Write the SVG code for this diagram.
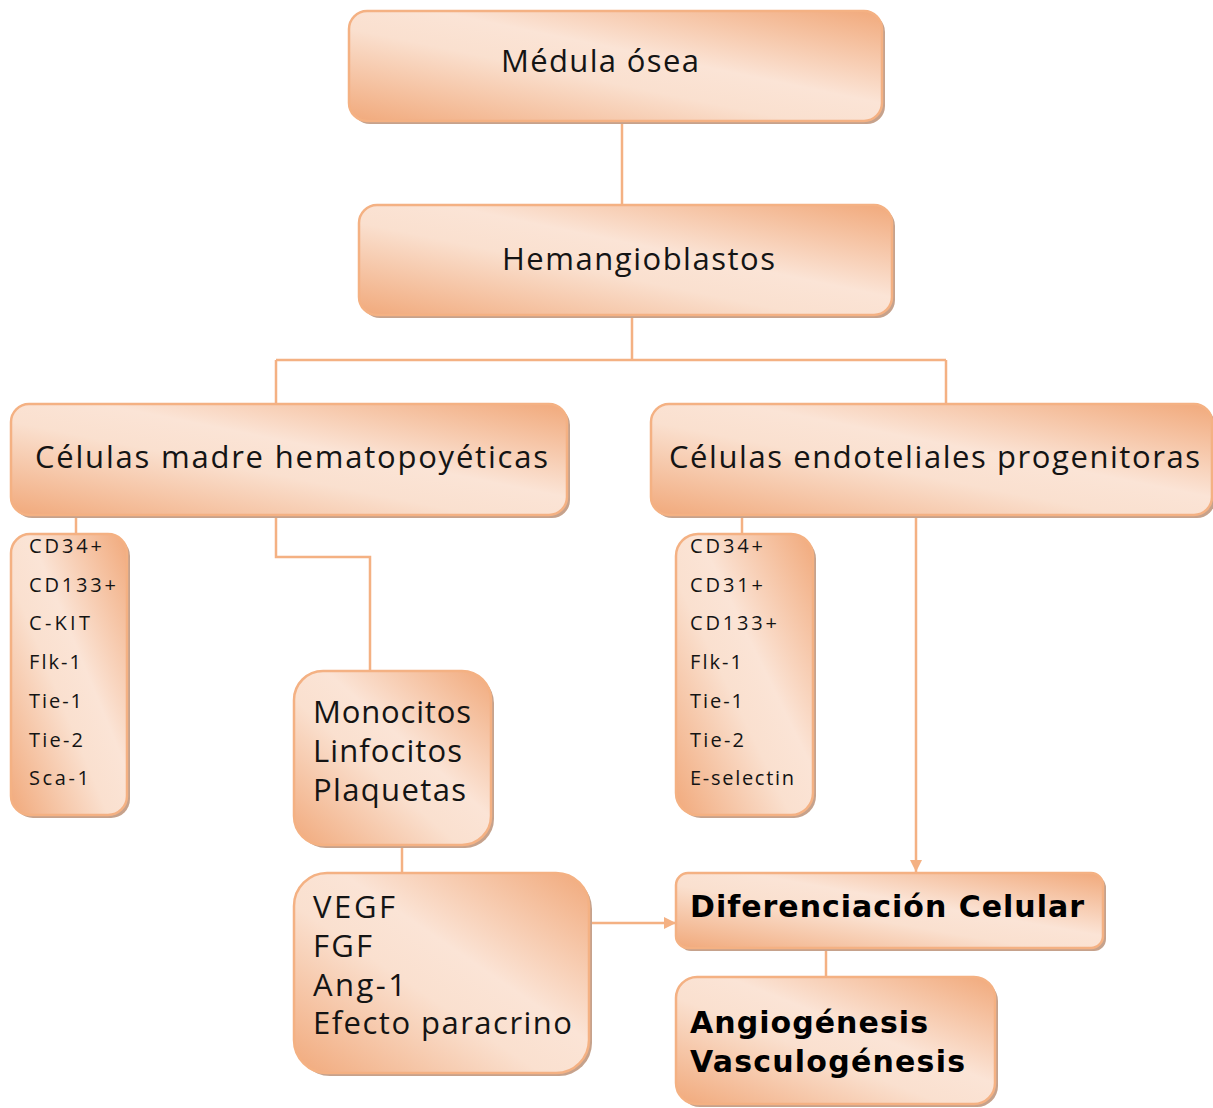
<svg xmlns="http://www.w3.org/2000/svg" width="1213" height="1108" viewBox="0 0 1213 1108">
  <defs>
    <linearGradient id="peach" x1="0" y1="1" x2="1" y2="0">
      <stop offset="0" stop-color="#F1A97B"/>
      <stop offset="0.42" stop-color="#FAE0CF"/>
      <stop offset="0.58" stop-color="#FBE4D6"/>
      <stop offset="1" stop-color="#F1A97B"/>
    </linearGradient>
    <marker id="arrow" viewBox="0 0 12 12" refX="12" refY="6" markerWidth="12" markerHeight="12" markerUnits="userSpaceOnUse" orient="auto">
      <path d="M0,0 L12,6 L0,12 Z" fill="#F4B183"/>
    </marker>
  </defs>
  <style>
    .shadow { fill: #C6A28C; }
    .box { fill: url(#peach); stroke: #F4B183; stroke-width: 2.5; }
    .conn { fill: none; stroke: #F4B183; stroke-width: 2.5; }
    .lbl { font-family: "Open Sans", "DejaVu Sans", sans-serif; font-size: 31px; fill: #141414; font-variant-ligatures: none; }
    .small { font-family: "Open Sans", "DejaVu Sans", sans-serif; font-size: 20px; fill: #141414; }
    .bold { font-family: "DejaVu Sans", Verdana, sans-serif; font-weight: bold; font-size: 30px; fill: #000; }
  </style>

  <rect width="1213" height="1108" fill="#FFFFFF"/>

  <!-- connectors -->
  <g id="connectors">
    <path class="conn" d="M622,121 V205"/>
    <path class="conn" d="M632,315 V360 M276,360 H946 M276,360 V404 M946,360 V404"/>
    <path class="conn" d="M76,515 V534"/>
    <path class="conn" d="M276,515 V557 H370 V671"/>
    <path class="conn" d="M402,845 V873"/>
    <path class="conn" d="M742,515 V534"/>
    <path class="conn" d="M916,515 V872" marker-end="url(#arrow)"/>
    <path class="conn" d="M589,923 H676" marker-end="url(#arrow)"/>
    <path class="conn" d="M826,948 V977"/>
  </g>

  <!-- Médula ósea -->
  <g id="medula">
    <rect class="shadow" x="352" y="14" width="533" height="110" rx="18"/>
    <rect class="box" x="349" y="11" width="533" height="110" rx="18"/>
    <text class="lbl" x="501" y="72" textLength="198" lengthAdjust="spacing">Médula ósea</text>
  </g>

  <!-- Hemangioblastos -->
  <g id="hemangioblastos">
    <rect class="shadow" x="362" y="208" width="533" height="110" rx="18"/>
    <rect class="box" x="359" y="205" width="533" height="110" rx="18"/>
    <text class="lbl" x="502" y="270" textLength="273" lengthAdjust="spacing">Hemangioblastos</text>
  </g>

  <!-- Células madre hematopoyéticas -->
  <g id="cmh">
    <rect class="shadow" x="14" y="407" width="556" height="111" rx="18"/>
    <rect class="box" x="11" y="404" width="556" height="111" rx="18"/>
    <text class="lbl" x="35" y="468" textLength="513" lengthAdjust="spacing">Células madre hematopoyéticas</text>
  </g>

  <!-- Células endoteliales progenitoras -->
  <g id="cep">
    <rect class="shadow" x="654" y="407" width="561" height="111" rx="18"/>
    <rect class="box" x="651" y="404" width="561" height="111" rx="18"/>
    <text class="lbl" x="669" y="468" textLength="531" lengthAdjust="spacing">Células endoteliales progenitoras</text>
  </g>

  <!-- marcadores CMH -->
  <g id="markers-cmh">
    <rect class="shadow" x="14" y="537" width="116" height="281" rx="19"/>
    <rect class="box" x="11" y="534" width="116" height="281" rx="19"/>
    <text class="small" x="29" y="553" textLength="73" lengthAdjust="spacing">CD34+</text>
    <text class="small" x="29" y="592" textLength="87" lengthAdjust="spacing">CD133+</text>
    <text class="small" x="29" y="630" textLength="61" lengthAdjust="spacing">C-KIT</text>
    <text class="small" x="29" y="669" textLength="52" lengthAdjust="spacing">Flk-1</text>
    <text class="small" x="29" y="708" textLength="53" lengthAdjust="spacing">Tie-1</text>
    <text class="small" x="29" y="747" textLength="54" lengthAdjust="spacing">Tie-2</text>
    <text class="small" x="29" y="785" textLength="60" lengthAdjust="spacing">Sca-1</text>
  </g>

  <!-- marcadores CEP -->
  <g id="markers-cep">
    <rect class="shadow" x="679" y="537" width="137" height="281" rx="22"/>
    <rect class="box" x="676" y="534" width="137" height="281" rx="22"/>
    <text class="small" x="690" y="553" textLength="73" lengthAdjust="spacing">CD34+</text>
    <text class="small" x="690" y="592" textLength="73" lengthAdjust="spacing">CD31+</text>
    <text class="small" x="690" y="630" textLength="87" lengthAdjust="spacing">CD133+</text>
    <text class="small" x="690" y="669" textLength="52" lengthAdjust="spacing">Flk-1</text>
    <text class="small" x="690" y="708" textLength="53" lengthAdjust="spacing">Tie-1</text>
    <text class="small" x="690" y="747" textLength="54" lengthAdjust="spacing">Tie-2</text>
    <text class="small" x="690" y="785" textLength="104" lengthAdjust="spacing">E-selectin</text>
  </g>

  <!-- Monocitos / Linfocitos / Plaquetas -->
  <g id="celulas-sanguineas">
    <rect class="shadow" x="297" y="674" width="197" height="174" rx="29"/>
    <rect class="box" x="294" y="671" width="197" height="174" rx="29"/>
    <text class="lbl" x="313" y="723" textLength="158" lengthAdjust="spacing">Monocitos</text>
    <text class="lbl" x="313" y="762" textLength="149" lengthAdjust="spacing">Linfocitos</text>
    <text class="lbl" x="313" y="801" textLength="153" lengthAdjust="spacing">Plaquetas</text>
  </g>

  <!-- Factores -->
  <g id="factores">
    <rect class="shadow" x="297" y="876" width="295" height="200" rx="33"/>
    <rect class="box" x="294" y="873" width="295" height="200" rx="33"/>
    <text class="lbl" x="313" y="918" textLength="82" lengthAdjust="spacing">VEGF</text>
    <text class="lbl" x="313" y="957" textLength="59" lengthAdjust="spacing">FGF</text>
    <text class="lbl" x="313" y="996" textLength="93" lengthAdjust="spacing">Ang-1</text>
    <text class="lbl" x="313" y="1034" textLength="259" lengthAdjust="spacing">Efecto paracrino</text>
  </g>

  <!-- Diferenciación Celular -->
  <g id="diferenciacion">
    <rect class="shadow" x="679" y="876" width="427" height="75" rx="12"/>
    <rect class="box" x="676" y="873" width="427" height="75" rx="12"/>
    <text class="bold" x="690" y="917" textLength="394" lengthAdjust="spacing">Diferenciación Celular</text>
  </g>

  <!-- Angiogénesis / Vasculogénesis -->
  <g id="angiogenesis">
    <rect class="shadow" x="679" y="980" width="319" height="127" rx="21"/>
    <rect class="box" x="676" y="977" width="319" height="127" rx="21"/>
    <text class="bold" x="690" y="1033" textLength="238" lengthAdjust="spacing">Angiogénesis</text>
    <text class="bold" x="690" y="1072" textLength="275" lengthAdjust="spacing">Vasculogénesis</text>
  </g>
</svg>
